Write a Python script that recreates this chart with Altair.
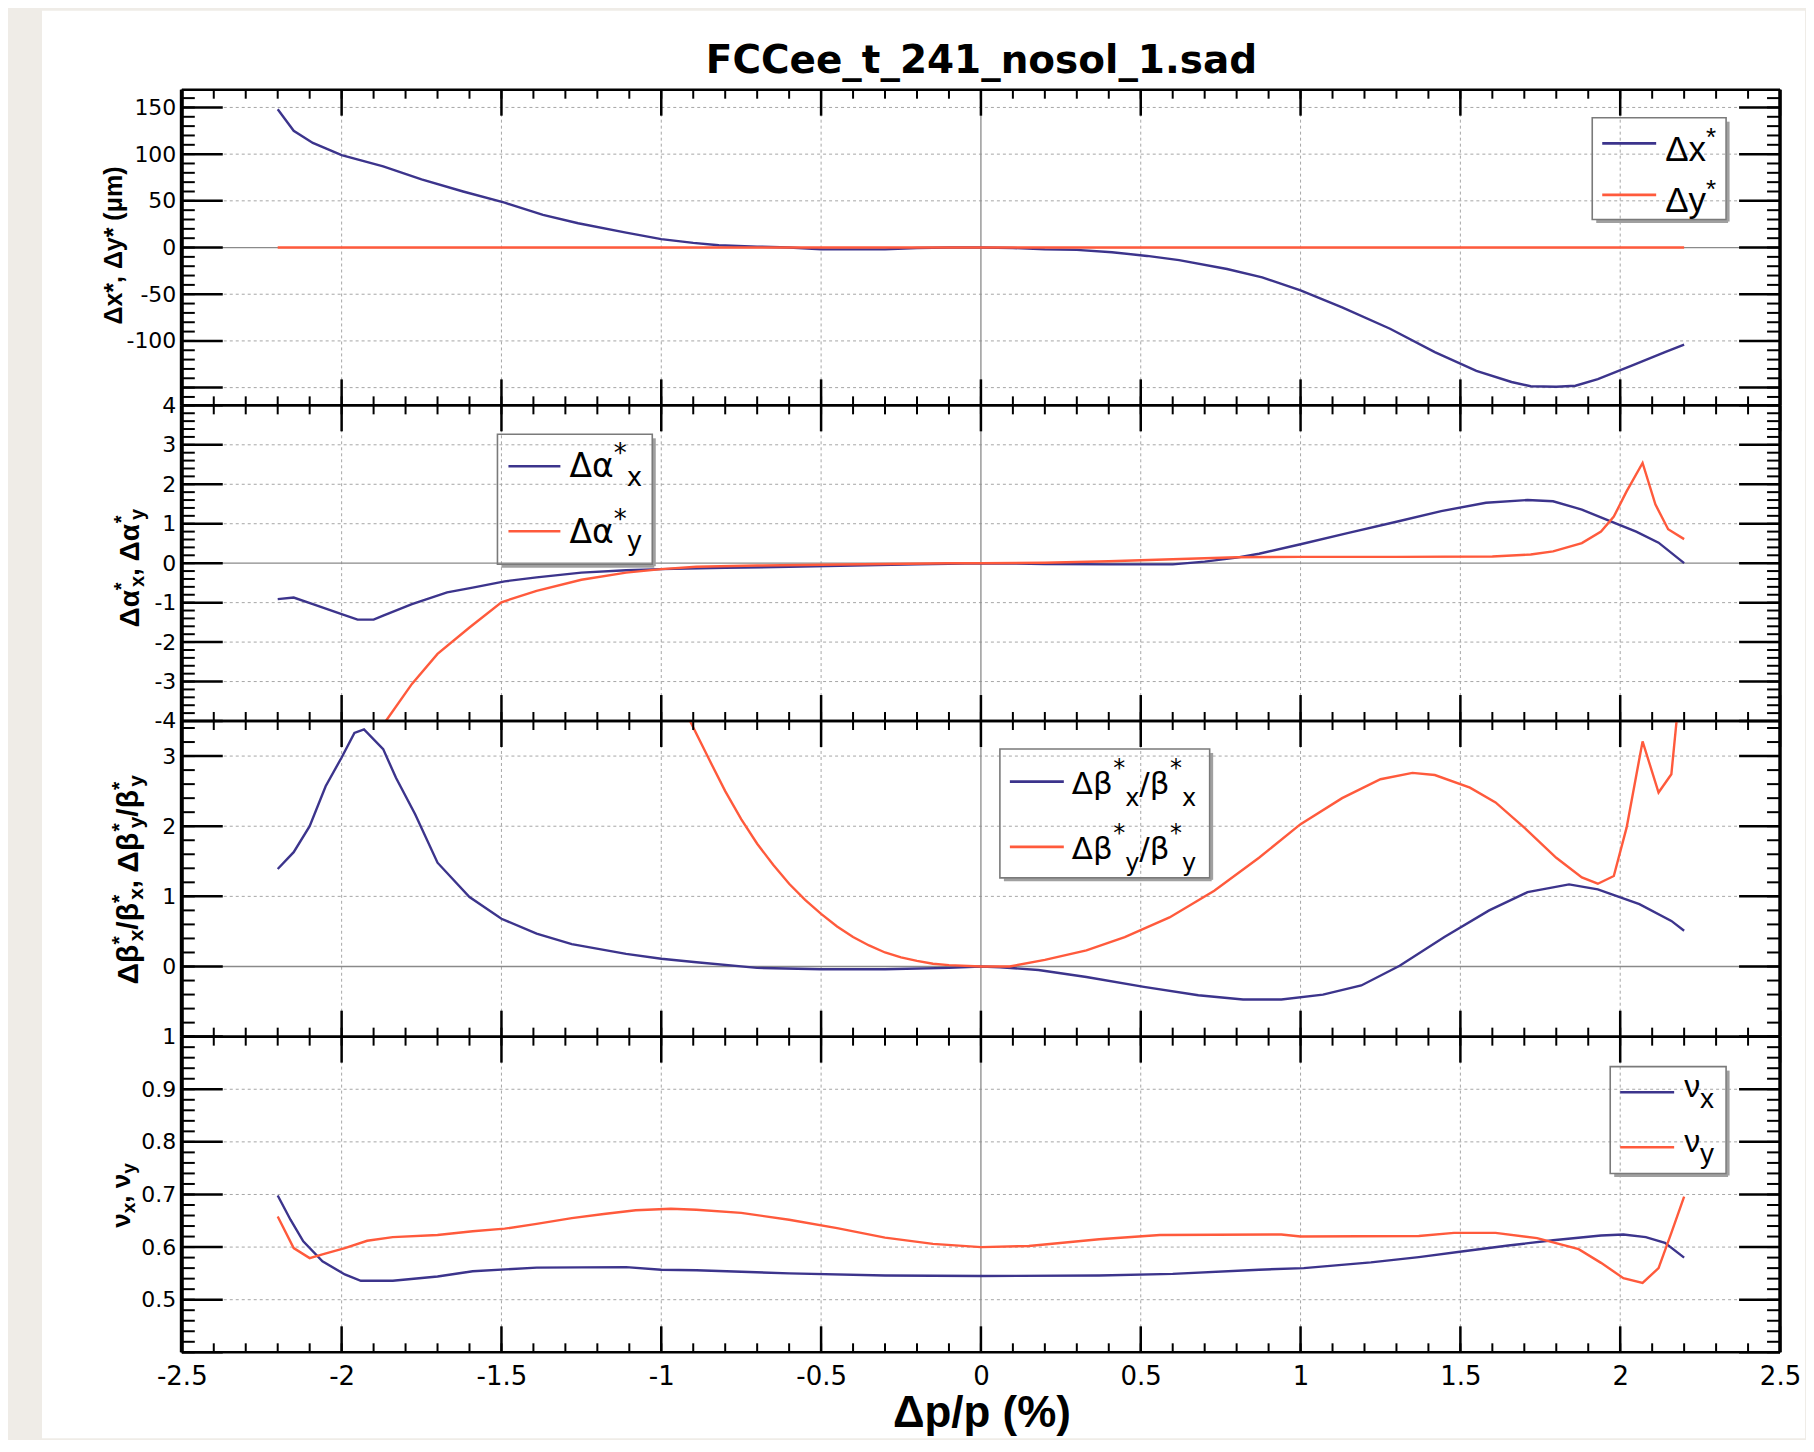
import altair as alt
import pandas as pd

# ---------------- curves (x = Δp/p in %) ----------------
DP_DX = [-2.2, -2.15, -2.09, -2.0, -1.87, -1.75, -1.62, -1.49, -1.37, -1.26, -1.11, -1.0,
         -0.9, -0.82, -0.7, -0.6, -0.5, -0.4, -0.3, -0.2, -0.1, 0.0, 0.1, 0.2, 0.3, 0.41,
         0.52, 0.62, 0.77, 0.88, 1.0, 1.13, 1.28, 1.42, 1.55, 1.66, 1.72, 1.8, 1.86, 1.93,
         2.04, 2.14, 2.2]
DX = [148, 125, 112, 99, 87, 73, 60, 48, 35, 26, 16, 9,
      5, 2.5, 1, 0, -2, -2, -2, -0.5, 0, 0, -0.5, -2, -2.5, -5,
      -9, -13.5, -23, -32, -46, -64, -87, -112, -132, -144, -148.5, -149, -148, -141,
      -126, -112, -104]
DP_DY = [-2.2, 0.0, 2.2]
DY = [0.0, 0.0, 0.0]

DP_DAX = [-2.2, -2.15, -2.09, -2.0, -1.95, -1.9, -1.87, -1.78, -1.67, -1.59, -1.49, -1.39,
          -1.25, -1.11, -1.0, -0.8, -0.6, -0.4, -0.2, 0.0, 0.2, 0.4, 0.6, 0.7, 0.8, 0.87,
          1.0, 1.15, 1.3, 1.44, 1.58, 1.71, 1.79, 1.88, 1.98, 2.05, 2.12, 2.2]
DAX = [-0.91, -0.87, -1.04, -1.29, -1.43, -1.43, -1.33, -1.04, -0.74, -0.62, -0.46, -0.36,
       -0.24, -0.18, -0.15, -0.12, -0.09, -0.06, -0.03, 0.0, -0.02, -0.03, -0.03, 0.04, 0.14, 0.24,
       0.48, 0.77, 1.05, 1.32, 1.53, 1.6, 1.57, 1.36, 1.03, 0.8, 0.52, 0.0]
DP_DAY = [-1.9, -1.86, -1.78, -1.7, -1.6, -1.5, -1.39, -1.25, -1.11, -1.0, -0.89, -0.7,
          -0.5, -0.3, -0.1, 0.0, 0.2, 0.4, 0.6, 0.8, 1.0, 1.3, 1.6, 1.72, 1.79, 1.88,
          1.94, 1.98, 2.02, 2.07, 2.11, 2.15, 2.2]
DAY = [-4.45, -3.98, -3.06, -2.30, -1.63, -0.99, -0.70, -0.42, -0.24, -0.15, -0.09, -0.06,
       -0.04, -0.02, 0.0, 0.0, 0.01, 0.05, 0.1, 0.15, 0.16, 0.16, 0.17, 0.22, 0.3, 0.51,
       0.8, 1.18, 1.82, 2.54, 1.49, 0.86, 0.61]

DP_DBX = [-2.2, -2.15, -2.1, -2.05, -2.0, -1.96, -1.93, -1.87, -1.83, -1.77, -1.7, -1.6,
          -1.5, -1.39, -1.28, -1.11, -1.0, -0.89, -0.7, -0.5, -0.3, -0.1, 0.0, 0.06, 0.18,
          0.33, 0.51, 0.68, 0.82, 0.94, 1.07, 1.19, 1.31, 1.45, 1.59, 1.71, 1.84, 1.93,
          2.06, 2.16, 2.2]
DBX = [1.39, 1.63, 2.0, 2.57, 2.98, 3.33, 3.38, 3.10, 2.69, 2.17, 1.48, 0.99,
       0.68, 0.47, 0.32, 0.18, 0.11, 0.06, -0.02, -0.04, -0.04, -0.02, 0.0, -0.01, -0.05,
       -0.15, -0.29, -0.41, -0.47, -0.47, -0.40, -0.27, 0.01, 0.42, 0.80, 1.06, 1.17, 1.10,
       0.89, 0.65, 0.51]
DP_DBY = [-0.95, -0.91, -0.85, -0.8, -0.75, -0.7, -0.65, -0.6, -0.55, -0.5, -0.45, -0.4,
          -0.35, -0.3, -0.25, -0.2, -0.15, -0.1, 0.0, 0.09, 0.2, 0.33, 0.45, 0.59, 0.73,
          0.87, 1.0, 1.13, 1.25, 1.35, 1.42, 1.53, 1.61, 1.7, 1.8, 1.88, 1.93, 1.98, 2.02,
          2.07, 2.12, 2.16, 2.2]
DBY = [3.9, 3.5, 2.95, 2.5, 2.1, 1.75, 1.45, 1.18, 0.95, 0.75, 0.57, 0.42,
       0.30, 0.2, 0.13, 0.08, 0.04, 0.02, 0.0, 0.0, 0.095, 0.23, 0.42, 0.70, 1.08,
       1.55, 2.03, 2.40, 2.67, 2.76, 2.73, 2.55, 2.34, 1.98, 1.55, 1.27, 1.18, 1.29, 1.98,
       3.21, 2.48, 2.74, 4.6]

DP_NUX = [-2.2, -2.16, -2.12, -2.06, -1.99, -1.94, -1.84, -1.7, -1.59, -1.39, -1.11, -1.0,
          -0.89, -0.6, -0.3, 0.0, 0.37, 0.6, 0.87, 1.01, 1.22, 1.37, 1.51, 1.65, 1.79, 1.94,
          2.01, 2.08, 2.14, 2.2]
NUX = [0.698, 0.652, 0.611, 0.573, 0.548, 0.536, 0.536, 0.544, 0.554, 0.561, 0.562, 0.557,
       0.556, 0.550, 0.546, 0.545, 0.546, 0.549, 0.557, 0.560, 0.571, 0.581, 0.592, 0.603,
       0.613, 0.622, 0.624, 0.619, 0.608, 0.580]
DP_NUY = [-2.2, -2.15, -2.1, -2.06, -1.99, -1.92, -1.84, -1.7, -1.59, -1.49, -1.39, -1.28,
          -1.18, -1.08, -0.97, -0.89, -0.75, -0.6, -0.45, -0.3, -0.15, 0.0, 0.15, 0.37, 0.56,
          0.94, 1.0, 1.37, 1.48, 1.61, 1.74, 1.87, 1.94, 2.01, 2.07, 2.12, 2.16, 2.2]
NUY = [0.658, 0.598, 0.579, 0.586, 0.598, 0.612, 0.619, 0.623, 0.630, 0.635, 0.644, 0.655,
       0.663, 0.670, 0.673, 0.671, 0.665, 0.652, 0.636, 0.618, 0.606, 0.600, 0.602, 0.615,
       0.623, 0.624, 0.620, 0.621, 0.627, 0.627, 0.617, 0.596, 0.570, 0.541, 0.532, 0.560,
       0.627, 0.696]

# ---------------- tick labels and texts ----------------
X_TICKS = [-2.5, -2.0, -1.5, -1.0, -0.5, 0.0, 0.5, 1.0, 1.5, 2.0, 2.5]
Y1_TICKS = [-150, -100, -50, 0, 50, 100, 150]
Y2_TICKS = [-4, -3, -2, -1, 0, 1, 2, 3, 4]
Y3_TICKS = [-1, 0, 1, 2, 3]
Y3_LABELS = [0, 1, 2, 3]
Y4_TICKS = [0.4, 0.5, 0.6, 0.7, 0.8, 0.9, 1.0]
Y4_LABELS = [0.5, 0.6, 0.7, 0.8, 0.9, 1.0]
TITLE = "FCCee_t_241_nosol_1.sad"
XTITLE = "Δp/p (%)"

# ---------------- layout / style ----------------
W, H = 1600, 316
PX0 = 181
TOPS = [88, 404, 720, 1036]
NAVY, RED = "#3c348c", "#ff5a3c"
GRID, ZERO = "#a6a6a6", "#8a8a8a"
BOXC, SHADOW = "#7a7a7a", "#a0a0a0"
BG = "#efece7"
LAB_FONT = "DejaVu Sans"
TXT_FONT = "Liberation Sans"

LIB = {"Δ": 0.668, "α": 0.58, "β": 0.575, "ν": 0.5, "μ": 0.576, "x": 0.5, "y": 0.5,
       "*": 0.389, "/": 0.278, ",": 0.278, " ": 0.278}
LIBB = {"Δ": 0.722, "α": 0.61, "β": 0.61, "ν": 0.556, "μ": 0.611, "x": 0.556, "y": 0.556,
        "*": 0.389, "/": 0.278, ",": 0.278, " ": 0.278}
DJV = {"Δ": 0.684, "α": 0.659, "β": 0.652, "ν": 0.592, "x": 0.592, "y": 0.592,
       "*": 0.5, "/": 0.337, ",": 0.318, " ": 0.318}

ONE = pd.DataFrame({"k": [0]})


def frange(lo, hi, step):
    n = int(round((hi - lo) / step))
    return [round(lo + k * step, 6) for k in range(n + 1)]


X_MINOR = frange(-2.5, 2.5, 0.1)
X_GRID = [-2.0, -1.5, -1.0, -0.5, 0.5, 1.0, 1.5, 2.0]


def tw(s, size, tab):
    return sum(tab.get(c, 0.55) for c in s) * size


def layout(tokens, size, ssize, rise, drop, tab, frac):
    out, a = [], 0.0
    for tok in tokens:
        if tok[0] == "n":
            out.append((tok[1], a, 0.0, size))
            a += tw(tok[1], size, tab)
        else:
            sup, sub = tok[1], tok[2]
            wsup = tw(sup, ssize, tab)
            shift = frac * wsup
            if sup:
                out.append((sup, a, -rise, ssize))
            if sub:
                out.append((sub, a + shift, drop, ssize))
            a += max(wsup, shift + tw(sub, ssize, tab))
    return out, a


def txt(s, x, y, size, font=TXT_FONT, bold=False, angle=0, align="left"):
    kw = dict(text=s, font=font, fontSize=size, color="black", align=align,
              baseline="alphabetic")
    if bold:
        kw["fontWeight"] = "bold"
    if angle:
        kw["angle"] = angle
    return alt.Chart(ONE).mark_text(**kw).encode(x=alt.value(x), y=alt.value(y))


def htext(tokens, x0, base, top, size, ssize, rise, drop, font, tab, frac=1.0):
    pieces, _ = layout(tokens, size, ssize, rise, drop, tab, frac)
    return [txt(s, x0 + a - PX0, base + p - top, sz, font) for s, a, p, sz in pieces]


def vtext(tokens, bx, cy, top, size, ssize, rise, drop, frac=0.4):
    pieces, total = layout(tokens, size, ssize, rise, drop, LIBB, frac)
    start = cy + total / 2.0
    return [txt(s, bx + p - PX0, start - a - top, sz, TXT_FONT, True, 270)
            for s, a, p, sz in pieces]


def prule(xa, ya, xb, yb, color, w, top):
    enc = dict(x=alt.value(xa - PX0), y=alt.value(ya - top))
    if xb != xa:
        enc["x2"] = alt.value(xb - PX0)
    if yb != ya:
        enc["y2"] = alt.value(yb - top)
    return alt.Chart(ONE).mark_rule(color=color, strokeWidth=w).encode(**enc)


def legend(box, entries, top):
    x0, y0, x1, y1 = box
    L = [
        prule(x1 + 2, y0 + 4, x1 + 2, y1 + 2, SHADOW, 3, top),
        prule(x0 + 4, y1 + 2, x1 + 2, y1 + 2, SHADOW, 3, top),
        alt.Chart(ONE).mark_rect(fill="white", fillOpacity=0, stroke=BOXC, strokeWidth=1.6)
        .encode(x=alt.value(x0 - PX0), x2=alt.value(x1 - PX0),
                y=alt.value(y0 - top), y2=alt.value(y1 - top)),
    ]
    for col, lx0, lx1, ly, texts in entries:
        L.append(prule(lx0, ly, lx1, ly, col, 2.6, top))
        L += texts
    return L


def build_panel(i, dom, major, labels, expr, minor, grid, zero, series, extra, show_x):
    XS = alt.Scale(domain=[-2.5, 2.5], nice=False, zero=False)
    YS = alt.Scale(domain=dom, nice=False, zero=False)
    if show_x:
        xaxis = alt.Axis(values=X_TICKS, labelExpr="'' + datum.value", labelFont=LAB_FONT,
                         labelFontSize=26, labelColor="black", labelPadding=11, ticks=False,
                         tickSize=0, domain=False, grid=False, title=None, zindex=1,
                         labelFlush=False, labelOverlap=False)
    else:
        xaxis = None
    yaxis = alt.Axis(values=labels, labelExpr=expr, labelFont=LAB_FONT, labelFontSize=22,
                     labelColor="black", labelPadding=6, ticks=False, tickSize=0,
                     domain=False, grid=False, title=None, zindex=1, labelOverlap=False)

    def X(f):
        return alt.X(f + ":Q", scale=XS, axis=xaxis)

    def Y(f):
        return alt.Y(f + ":Q", scale=YS, axis=yaxis)

    def vr(vals, y0, y1, color, w, dash=None):
        kw = dict(color=color, strokeWidth=w)
        if dash:
            kw["strokeDash"] = dash
        return alt.Chart(pd.DataFrame({"v": vals})).mark_rule(**kw).encode(
            x=X("v"), y=alt.value(y0), y2=alt.value(y1))

    def hr(vals, x0, x1, color, w, dash=None):
        kw = dict(color=color, strokeWidth=w)
        if dash:
            kw["strokeDash"] = dash
        return alt.Chart(pd.DataFrame({"v": vals})).mark_rule(**kw).encode(
            y=Y("v"), x=alt.value(x0), x2=alt.value(x1))

    layers = []
    if i == 0:
        layers.append(alt.Chart(ONE).mark_rect(color="white").encode(
            x=alt.value(-140), x2=alt.value(1625), y=alt.value(-79), y2=alt.value(1350)))
    layers.append(vr(X_GRID, 0, H, GRID, 1, [3, 3]))
    layers.append(hr(grid, 0, W, GRID, 1, [3, 3]))
    layers.append(vr([0.0], 0, H, ZERO, 1.3))
    if zero:
        layers.append(hr([0], 0, W, ZERO, 1.3))
    for xs, ys, col in series:
        layers.append(alt.Chart(pd.DataFrame({"x": xs, "y": ys}))
                      .mark_line(color=col, strokeWidth=2.4, clip=True)
                      .encode(x=X("x"), y=Y("y")))
    # inward ticks on all four sides
    layers += [
        vr(X_TICKS, 0, 26, "black", 2.5), vr(X_MINOR, 0, 9, "black", 2),
        vr(X_TICKS, H, H - 26, "black", 2.5), vr(X_MINOR, H, H - 9, "black", 2),
        hr(major, 0, 41, "black", 2.5), hr(minor, 0, 13, "black", 2),
        hr(major, W, W - 41, "black", 2.5), hr(minor, W, W - 13, "black", 2),
    ]
    # frame
    layers += [
        alt.Chart(ONE).mark_rule(color="black", strokeWidth=2.5).encode(
            x=alt.value(0), x2=alt.value(W), y=alt.value(0)),
        alt.Chart(ONE).mark_rule(color="black", strokeWidth=2.5).encode(
            x=alt.value(0), x2=alt.value(W), y=alt.value(H)),
        alt.Chart(ONE).mark_rule(color="black", strokeWidth=4).encode(
            x=alt.value(0), y=alt.value(0), y2=alt.value(H)),
        alt.Chart(ONE).mark_rule(color="black", strokeWidth=3.5).encode(
            x=alt.value(W), y=alt.value(0), y2=alt.value(H)),
    ]
    layers += extra
    return alt.layer(*layers).properties(width=W, height=H)


# ---------------- panel 1: Δx*, Δy* ----------------
t = TOPS[0]
extra1 = legend((1593, 116, 1727, 218), [
    (NAVY, 1603, 1657, 141.7, htext([("n", "Δx"), ("s", "*", "")], 1666, 159, t, 35, 26, 15, 0, TXT_FONT, LIB)),
    (RED, 1603, 1657, 193.3, htext([("n", "Δy"), ("s", "*", "")], 1666, 210, t, 35, 26, 14, 0, TXT_FONT, LIB)),
], t)
extra1 += [
    txt("Δx*, Δy* (μm)", 121 - PX0, 244 - t, 25, TXT_FONT, True, 270, "center"),
    txt(TITLE, 800.5, 71 - t, 39, LAB_FONT, True, 0, "center"),
]
p1 = build_panel(0, [-169, 169], Y1_TICKS, Y1_TICKS,
                 "datum.value == -150 ? '' : '' + datum.value",
                 frange(-160, 160, 10), [-150, -100, -50, 50, 100, 150], True,
                 [(DP_DX, DX, NAVY), (DP_DY, DY, RED)], extra1, False)

# ---------------- panel 2: Δα* ----------------
t = TOPS[1]
extra2 = legend((497, 433, 652, 563), [
    (NAVY, 508, 560, 465, htext([("n", "Δα"), ("s", "*", "x")], 569, 476, t, 33, 26, 15, 9, LAB_FONT, DJV)),
    (RED, 508, 560, 530, htext([("n", "Δα"), ("s", "*", "y")], 569, 541.7, t, 33, 26, 15, 7, LAB_FONT, DJV)),
], t)
extra2 += vtext([("n", "Δα"), ("s", "*", "x"), ("n", ", Δα"), ("s", "*", "y")],
                138, 567, t, 28, 20, 11, 5)
p2 = build_panel(1, [-4, 4], Y2_TICKS, Y2_TICKS, "'' + datum.value",
                 frange(-4, 4, 0.2), [-3, -2, -1, 1, 2, 3], True,
                 [(DP_DAX, DAX, NAVY), (DP_DAY, DAY, RED)], extra2, False)

# ---------------- panel 3: Δβ*/β* ----------------
t = TOPS[2]
extra3 = legend((1000, 748, 1210, 877), [
    (NAVY, 1010, 1064, 780.7, htext([("n", "Δβ"), ("s", "*", "x"), ("n", "/β"), ("s", "*", "x")],
                                     1072, 793, t, 31, 24, 18, 12, LAB_FONT, DJV)),
    (RED, 1010, 1064, 846, htext([("n", "Δβ"), ("s", "*", "y"), ("n", "/β"), ("s", "*", "y")],
                                  1072, 858.5, t, 31, 24, 18, 12, LAB_FONT, DJV)),
], t)
extra3 += vtext([("n", "Δβ"), ("s", "*", "x"), ("n", "/β"), ("s", "*", "x"),
                 ("n", ", Δβ"), ("s", "*", "y"), ("n", "/β"), ("s", "*", "y")],
                137, 879, t, 30, 21, 12, 5)
p3 = build_panel(2, [-1, 3.5], Y3_TICKS, Y3_LABELS, "'' + datum.value",
                 frange(-1, 3.4, 0.2), [1, 2, 3], True,
                 [(DP_DBX, DBX, NAVY), (DP_DBY, DBY, RED)], extra3, False)

# ---------------- panel 4: tunes ----------------
t = TOPS[3]
extra4 = legend((1611, 1066, 1727, 1173), [
    (NAVY, 1621, 1675, 1091.7, htext([("n", "ν"), ("s", "", "x")], 1685, 1096.7, t, 32, 28, 0, 10.6, TXT_FONT, LIB)),
    (RED, 1621, 1675, 1146.7, htext([("n", "ν"), ("s", "", "y")], 1685, 1151.7, t, 32, 28, 0, 11, TXT_FONT, LIB)),
], t)
extra4 += vtext([("n", "ν"), ("s", "", "x"), ("n", ", ν"), ("s", "", "y")],
                129, 1195, t, 26, 19, 0, 5)
extra4 += [txt(XTITLE, 801, 1427 - t, 44, TXT_FONT, True, 0, "center")]
p4 = build_panel(3, [0.4, 1.0], Y4_TICKS, Y4_LABELS, "'' + datum.value",
                 frange(0.4, 1.0, 0.02), [0.5, 0.6, 0.7, 0.8, 0.9], False,
                 [(DP_NUX, NUX, NAVY), (DP_NUY, NUY, RED)], extra4, True)

chart = alt.vconcat(p1, p2, p3, p4, spacing=0, bounds="flush").properties(
    padding={"left": 33, "top": 1, "right": 0, "bottom": 0},
    background=BG,
).configure_view(stroke="transparent")

chart.save("out.html", embed_options={"renderer": "svg", "actions": False})
